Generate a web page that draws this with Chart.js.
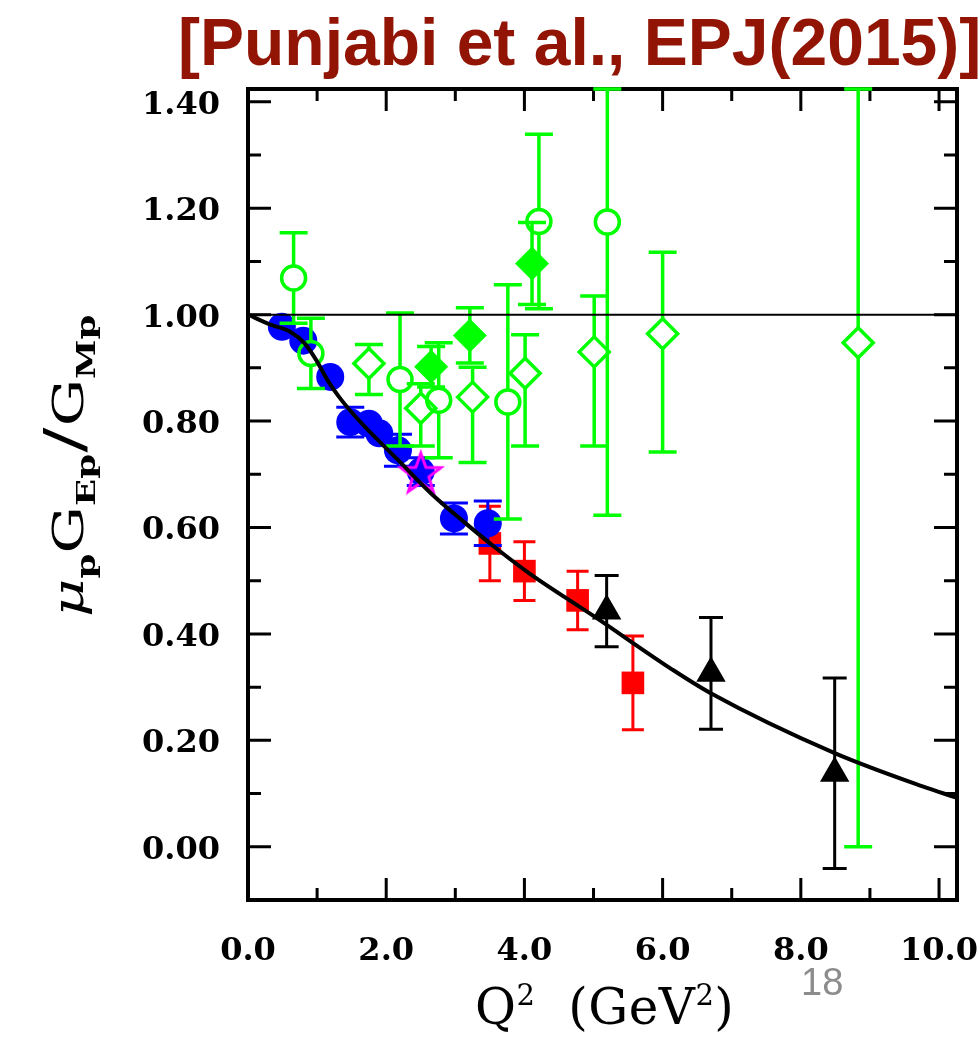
<!DOCTYPE html>
<html>
<head>
<meta charset="utf-8">
<script src="https://cdn.jsdelivr.net/npm/chart.js@4.4.1/dist/chart.umd.min.js"></script>
<style>
  html, body { margin: 0; padding: 0; background: #fff; }
  #wrap { position: relative; width: 979px; height: 1039px; overflow: hidden; }
  #plot { position: absolute; left: 0; top: 0; }
  .title {
    position: absolute; left: 178px; top: 9px; white-space: nowrap;
    font: bold 66px/66px "Liberation Sans", Arial, sans-serif; color: #911405;
  }
  .ylab {
    position: absolute; left: 33px; top: 617px; white-space: nowrap;
    height: 64px; line-height: 64px;
    font: 45px "DejaVu Serif", serif; color: #000;
    transform-origin: 0 0; transform: rotate(-90deg) scale(1.32, 0.96);
  }
  .ylab i { font-style: italic; }
  .ylab .s { font-size: 27px; font-weight: bold; position: relative; top: 13px; }
  .ylab .sl { font-size: 56px; padding: 0 1px; }
  .xlab {
    position: absolute; left: 475px; top: 982px; white-space: nowrap;
    font: 50px/50px "DejaVu Serif", serif; color: #000; letter-spacing: 0.5px;
  }
  .xlab sup { font-size: 29px; vertical-align: 19px; line-height: 0; }
  .page {
    position: absolute; left: 801px; top: 963px;
    font: 38px/38px "Liberation Sans Narrow", "Liberation Sans", sans-serif; color: #8c8c8c;
  }
</style>
</head>
<body>
<div id="wrap">
  <canvas id="plot" width="979" height="1039"></canvas>
  <div class="title">[Punjabi et al., EPJ(2015)]</div>
  <div class="ylab"><i>μ</i><span class="s">p</span>G<span class="s">Ep</span><span class="sl">/</span>G<span class="s">Mp</span></div>
  <div class="xlab">Q<sup>2</sup>&nbsp; (GeV<sup>2</sup>)</div>
  <div class="page">18</div>
</div>
<script>
// axis ranges and ticks
const xMin = 0, xMax = 10.26;
const yMin = -0.1, yMax = 1.424;
const xMajorTicks = [0, 2, 4, 6, 8, 10];
const xMinorTicks = [1, 3, 5, 7, 9];
const xTickLabels = ['0.0', '2.0', '4.0', '6.0', '8.0', '10.0'];
const yMajorTicks = [0, 0.2, 0.4, 0.6, 0.8, 1.0, 1.2, 1.4];
const yMinorTicks = [0.1, 0.3, 0.5, 0.7, 0.9, 1.1, 1.3];
const yTickLabels = ['0.00', '0.20', '0.40', '0.60', '0.80', '1.00', '1.20', '1.40'];

// polarization transfer, blue circles
const blueQ2 = [0.49, 0.80, 1.19, 1.48, 1.75, 1.90, 2.17, 2.50, 2.98, 3.47];
const blueR = [0.977, 0.951, 0.883, 0.798, 0.795, 0.777, 0.745, 0.705, 0.617, 0.608];
const blueErr = [0.012, 0.014, 0.016, 0.028, 0.020, 0.022, 0.030, 0.026, 0.029, 0.042];

// red squares
const redQ2 = [3.50, 4.00, 4.77, 5.57];
const redR = [0.570, 0.518, 0.463, 0.308];
const redErr = [0.070, 0.055, 0.055, 0.088];

// black triangles
const blackQ2 = [5.19, 6.70, 8.49];
const blackR = [0.443, 0.326, 0.138];
const blackErr = [0.067, 0.105, 0.179];

// magenta star
const starQ2 = [2.50];
const starR = [0.700];

// Rosenbluth, green open circles
const gCircQ2 = [0.66, 0.91, 2.20, 2.76, 3.76, 4.21, 5.20];
const gCircR = [1.069, 0.927, 0.878, 0.839, 0.836, 1.175, 1.174];
const gCircErr = [0.085, 0.066, 0.125, 0.108, 0.220, 0.164, 0.551];

// green open diamonds (asymmetric bars)
const gDiaQ2 = [1.75, 2.50, 3.25, 4.01, 5.01, 6.00, 8.83];
const gDiaR = [0.908, 0.824, 0.845, 0.890, 0.930, 0.964, 0.947];
const gDiaLo = [0.850, 0.753, 0.722, 0.753, 0.753, 0.742, 0.000];
const gDiaHi = [0.944, 0.870, 0.901, 0.962, 1.035, 1.117, 1.894];

// green filled diamonds
const gFillQ2 = [2.65, 3.21, 4.11];
const gFillR = [0.902, 0.961, 1.096];
const gFillErr = [0.038, 0.052, 0.077];

// fit curve
const fitQ2 = [0.00, 0.33, 0.61, 0.82, 0.99, 1.15, 1.32, 1.60, 2.17, 2.65, 3.12, 3.59, 4.07, 5.01, 6.14, 6.69, 8.49, 9.75, 10.26];
const fitR = [1.000, 0.981, 0.968, 0.946, 0.914, 0.877, 0.845, 0.802, 0.727, 0.664, 0.611, 0.561, 0.514, 0.433, 0.333, 0.289, 0.176, 0.114, 0.092];

const unity = 1.0;

const GREEN = '#00ff00';

function pts(xs, ys) {
  return xs.map((x, i) => ({ x: x, y: ys[i] }));
}
function symBars(ys, errs) {
  return { lo: ys.map((y, i) => y - errs[i]), hi: ys.map((y, i) => y + errs[i]) };
}

// hollow five point star used as a point style
function starImage(rOut, rIn, color, lw) {
  const size = Math.ceil(2 * rOut + 2 * lw + 2);
  const c = document.createElement('canvas');
  c.width = size; c.height = size;
  const g = c.getContext('2d');
  g.translate(size / 2, size / 2);
  g.beginPath();
  for (let k = 0; k < 10; k++) {
    const r = k % 2 ? rIn : rOut;
    const a = -Math.PI / 2 + k * Math.PI / 5;
    g.lineTo(r * Math.cos(a), r * Math.sin(a));
  }
  g.closePath();
  g.strokeStyle = color;
  g.lineWidth = lw;
  g.stroke();
  return c;
}

// frame with inward ticks on all four sides, plus tick labels
const framePlugin = {
  id: 'frame',
  beforeDatasetsDraw(chart) {
    const { ctx, chartArea: a, scales: { x, y } } = chart;
    ctx.save();
    ctx.strokeStyle = '#000';
    ctx.lineWidth = 3;
    ctx.beginPath();
    const tick = (v, len, horiz) => {
      if (horiz) {
        const px = x.getPixelForValue(v);
        ctx.moveTo(px, a.bottom); ctx.lineTo(px, a.bottom - len);
        ctx.moveTo(px, a.top); ctx.lineTo(px, a.top + len);
      } else {
        const py = y.getPixelForValue(v);
        ctx.moveTo(a.left, py); ctx.lineTo(a.left + len, py);
        ctx.moveTo(a.right, py); ctx.lineTo(a.right - len, py);
      }
    };
    xMajorTicks.forEach(v => tick(v, 22, true));
    xMinorTicks.forEach(v => tick(v, 12, true));
    yMajorTicks.forEach(v => tick(v, 23, false));
    yMinorTicks.forEach(v => tick(v, 13, false));
    ctx.stroke();
    ctx.lineWidth = 4;
    ctx.strokeRect(a.left, a.top, a.right - a.left, a.bottom - a.top);

    ctx.fillStyle = '#000';
    ctx.font = 'bold 32px "DejaVu Serif", serif';
    ctx.textBaseline = 'alphabetic';
    ctx.textAlign = 'center';
    xMajorTicks.forEach((v, i) => ctx.fillText(xTickLabels[i], x.getPixelForValue(v), 960));
    ctx.textAlign = 'right';
    yMajorTicks.forEach((v, i) => ctx.fillText(yTickLabels[i], 220, y.getPixelForValue(v) + 12));
    ctx.restore();
  }
};

// vertical error bars, drawn just under each dataset's markers
const errorBarPlugin = {
  id: 'errorBars',
  beforeDatasetDraw(chart, args) {
    const ds = chart.data.datasets[args.index];
    const eb = ds.errorBars;
    if (!eb) return;
    const { ctx, chartArea: a, scales: { x, y } } = chart;
    ctx.save();
    ctx.beginPath();
    ctx.rect(a.left - 4, a.top - 4, a.right - a.left + 8, a.bottom - a.top + 8);
    ctx.clip();
    ctx.strokeStyle = eb.color;
    ctx.lineWidth = eb.width;
    ds.data.forEach((p, i) => {
      const px = x.getPixelForValue(p.x);
      const py = y.getPixelForValue(p.y);
      const top = y.getPixelForValue(Math.min(eb.hi[i], yMax));
      const bot = y.getPixelForValue(Math.max(eb.lo[i], yMin));
      ctx.beginPath();
      if (py - top > eb.gap) {
        ctx.moveTo(px, top); ctx.lineTo(px, py - eb.gap);
      }
      if (bot - py > eb.gap) {
        ctx.moveTo(px, py + eb.gap); ctx.lineTo(px, bot);
      }
      if (py - top > eb.hide) {
        ctx.moveTo(px - eb.cap, top); ctx.lineTo(px + eb.cap, top);
      }
      if (bot - py > eb.hide) {
        ctx.moveTo(px - eb.cap, bot); ctx.lineTo(px + eb.cap, bot);
      }
      ctx.stroke();
    });
    ctx.restore();
  }
};

const datasets = [
  {
    type: 'line', order: 0, data: pts(fitQ2, fitR),
    borderColor: '#000', borderWidth: 4, pointRadius: 0,
    cubicInterpolationMode: 'monotone', fill: false
  },
  {
    type: 'line', order: 1, data: pts([xMin, xMax], [unity, unity]),
    borderColor: '#000', borderWidth: 2, pointRadius: 0, fill: false
  },
  {
    order: 2, data: pts(starQ2, starR),
    pointStyle: starImage(21, 8.5, '#ff00ff', 3), pointRadius: 21
  },
  {
    order: 3, data: pts(gCircQ2, gCircR),
    pointStyle: 'circle', pointRadius: 12, borderWidth: 3.5,
    borderColor: GREEN, backgroundColor: 'rgba(0,0,0,0)',
    errorBars: Object.assign(symBars(gCircR, gCircErr), { color: GREEN, width: 3.5, cap: 14, gap: 12, hide: 12 })
  },
  {
    order: 4, data: pts(gDiaQ2, gDiaR),
    pointStyle: 'rectRot', pointRadius: 15, borderWidth: 3.5,
    borderColor: GREEN, backgroundColor: 'rgba(0,0,0,0)',
    errorBars: { lo: gDiaLo, hi: gDiaHi, color: GREEN, width: 3.5, cap: 14, gap: 15, hide: 15 }
  },
  {
    order: 5, data: pts(gFillQ2, gFillR),
    pointStyle: 'rectRot', pointRadius: 17, borderWidth: 0,
    backgroundColor: GREEN,
    errorBars: Object.assign(symBars(gFillR, gFillErr), { color: GREEN, width: 3.5, cap: 14, gap: 0, hide: 14 })
  },
  {
    order: 6, data: pts(blueQ2, blueR),
    pointStyle: 'circle', pointRadius: 14, borderWidth: 0,
    backgroundColor: '#0000ff',
    errorBars: Object.assign(symBars(blueR, blueErr), { color: '#0000ff', width: 3, cap: 14, gap: 0, hide: 13 })
  },
  {
    order: 7, data: pts(redQ2, redR),
    pointStyle: 'rect', pointRadius: 16, borderWidth: 0,
    backgroundColor: '#ff0000',
    errorBars: Object.assign(symBars(redR, redErr), { color: '#ff0000', width: 3, cap: 11, gap: 0, hide: 11 })
  },
  {
    order: 8, data: pts(blackQ2, blackR),
    pointStyle: 'triangle', pointRadius: 17, borderWidth: 0,
    backgroundColor: '#000',
    errorBars: Object.assign(symBars(blackR, blackErr), { color: '#000', width: 3, cap: 12, gap: 0, hide: 12 })
  }
];

const chart = new Chart(document.getElementById('plot').getContext('2d'), {
  type: 'scatter',
  data: { datasets: datasets },
  options: {
    responsive: false,
    animation: false,
    events: [],
    layout: { padding: { left: 248, top: 89, right: 10, bottom: 139 } },
    plugins: { legend: { display: false }, tooltip: { enabled: false } },
    scales: {
      x: { type: 'linear', min: xMin, max: xMax, display: false },
      y: { type: 'linear', min: yMin, max: yMax, display: false }
    }
  },
  plugins: [framePlugin, errorBarPlugin]
});
</script>
</body>
</html>
